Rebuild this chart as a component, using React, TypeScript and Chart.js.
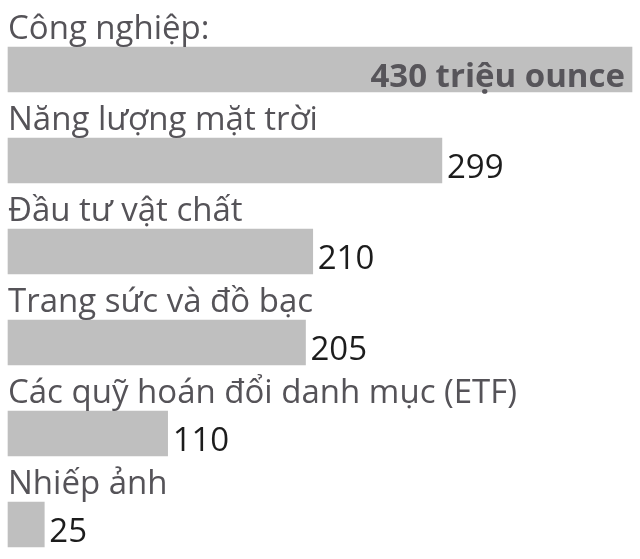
import { useEffect, useRef } from 'react';
import { Chart, registerables } from 'chart.js';

Chart.register(...registerables);

const categories = [
  'Công nghiệp:',
  'Năng lượng mặt trời',
  'Đầu tư vật chất',
  'Trang sức và đồ bạc',
  'Các quỹ hoán đổi danh mục (ETF)',
  'Nhiếp ảnh',
];
const values = [430, 299, 210, 205, 110, 25];
const valueLabels = ['430 triệu ounce', '299', '210', '205', '110', '25'];

const FONT = '"Open Sans", "Noto Sans", sans-serif';

const labelPlugin = {
  id: 'barLabels',
  afterDatasetsDraw(chart: Chart) {
    const ctx = chart.ctx;
    const meta = chart.getDatasetMeta(0);
    ctx.save();
    meta.data.forEach((bar: any, i: number) => {
      const top = bar.y - bar.height / 2;
      // category name above the bar
      ctx.font = `33px ${FONT}`;
      ctx.fillStyle = '#555358';
      ctx.textAlign = 'left';
      ctx.textBaseline = 'alphabetic';
      ctx.fillText(categories[i], 8, top - 8);
      // value
      if (i === 0) {
        ctx.font = `bold 33px ${FONT}`;
        ctx.fillStyle = '#57555a';
        ctx.textAlign = 'right';
        ctx.fillText(valueLabels[i], bar.x - 7, bar.y + 17);
      } else {
        ctx.font = `33px ${FONT}`;
        ctx.fillStyle = '#1c1c1c';
        ctx.textAlign = 'left';
        ctx.fillText(valueLabels[i], bar.x + 5, bar.y + 17);
      }
    });
    ctx.restore();
  },
};

function SilverBars() {
  const chartRef = useRef<HTMLCanvasElement>(null);
  const chartInstance = useRef<Chart | null>(null);

  useEffect(() => {
    if (chartRef.current) {
      if (chartInstance.current) {
        chartInstance.current.destroy();
      }
      const ctx = chartRef.current.getContext('2d');
      if (ctx) {
        chartInstance.current = new Chart(ctx, {
          type: 'bar',
          data: {
            labels: categories,
            datasets: [{
              data: values,
              backgroundColor: '#bfbfbf',
              barThickness: 45,
              clip: false,
            }],
          },
          options: {
            indexAxis: 'y',
            responsive: false,
            animation: false,
            layout: {
              padding: { left: 8, right: 8, top: 69.5, bottom: 34.5 },
            },
            scales: {
              x: { display: false, min: 0, max: 430 },
              y: { display: false, offset: false },
            },
            plugins: {
              legend: { display: false },
              tooltip: { enabled: false },
            },
          },
          plugins: [labelPlugin],
        });
      }
    }

    return () => {
      if (chartInstance.current) {
        chartInstance.current.destroy();
        chartInstance.current = null;
      }
    };
  }, []);

  return <canvas ref={chartRef} width={640} height={559} />;
}

export default function App() {
  return (
    <div style={{ position: 'absolute', left: 0, top: 0, width: 640, height: 559, background: '#fff' }}>
      <SilverBars />
    </div>
  );
}
